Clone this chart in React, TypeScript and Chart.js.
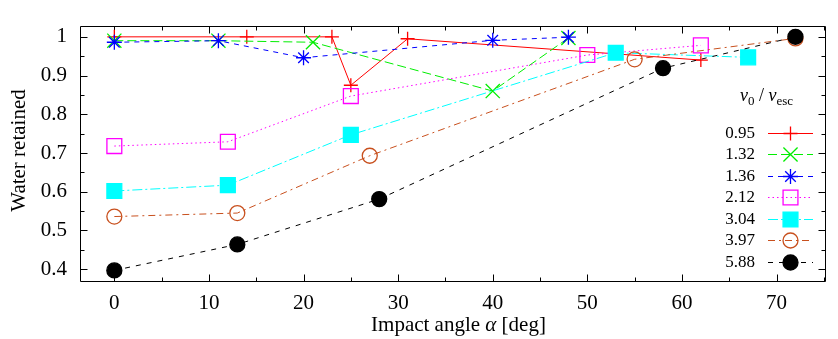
import React, { useEffect, useRef } from 'react';
import { Chart, registerables } from 'chart.js';

Chart.register(...registerables);

// ---- data ----
const seriesLabels = ['0.95', '1.32', '1.36', '2.12', '3.04', '3.97', '5.88'];

const angles095 = [0, 14, 23, 25, 31, 62];
const retained095 = [1.0, 1.0, 1.0, 0.875, 0.995, 0.94];

const angles132 = [0, 11, 21, 40, 48];
const retained132 = [0.99, 0.99, 0.986, 0.86, 0.997];

const angles136 = [0, 11, 20, 40, 48];
const retained136 = [0.986, 0.99, 0.946, 0.991, 0.999];

const angles212 = [0, 12, 25, 50, 62];
const retained212 = [0.718, 0.729, 0.847, 0.953, 0.978];

const angles304 = [0, 12, 25, 53, 67];
const retained304 = [0.602, 0.617, 0.747, 0.959, 0.947];

const angles397 = [0, 13, 27, 55, 72];
const retained397 = [0.536, 0.545, 0.693, 0.942, 0.996];

const angles588 = [0, 13, 28, 58, 72];
const retained588 = [0.397, 0.464, 0.581, 0.919, 1.0];

const xTicks = [0, 10, 20, 30, 40, 50, 60, 70];
const xMinorTicks = [5, 15, 25, 35, 45, 55, 65, 75];
const yTicks = [0.4, 0.5, 0.6, 0.7, 0.8, 0.9, 1.0];
const yTickLabels = ['0.4', '0.5', '0.6', '0.7', '0.8', '0.9', '1'];
const yMinorTicks = [0.45, 0.55, 0.65, 0.75, 0.85, 0.95];

const xTitleParts = ['Impact angle ', 'α', ' [deg]'];
const yTitle = 'Water retained';

// ---- styles ----
const FONT = '"Liberation Serif", "Times New Roman", serif';
const colors = ['#ff0000', '#00ee00', '#0000ff', '#ff00ff', '#00ffff', '#c8501e', '#000000'];
const pointStyles = ['cross', 'crossRot', 'star', 'rect', 'rect', 'circle', 'circle'];
const filled = [false, false, false, false, true, false, true];
const radii = [7, 10, 7.5, 10.5, 10.5, 7.5, 7.5];
const dashes: number[][] = [[], [9, 4], [5, 5], [1.5, 3], [10, 3, 2, 3], [7, 4, 2, 4], [5, 6]];

const allAngles = [angles095, angles132, angles136, angles212, angles304, angles397, angles588];
const allRetained = [retained095, retained132, retained136, retained212, retained304, retained397, retained588];

function drawMarker(ctx: CanvasRenderingContext2D, i: number, x: number, y: number) {
  const r = radii[i];
  const style = pointStyles[i];
  ctx.save();
  ctx.setLineDash([]);
  ctx.strokeStyle = colors[i];
  ctx.fillStyle = colors[i];
  ctx.lineWidth = 1.3;
  ctx.beginPath();
  if (style === 'cross' || style === 'star') {
    ctx.moveTo(x - r, y); ctx.lineTo(x + r, y);
    ctx.moveTo(x, y - r); ctx.lineTo(x, y + r);
  }
  if (style === 'crossRot' || style === 'star') {
    const o = r * Math.SQRT1_2;
    ctx.moveTo(x - o, y - o); ctx.lineTo(x + o, y + o);
    ctx.moveTo(x - o, y + o); ctx.lineTo(x + o, y - o);
  }
  if (style === 'rect') {
    const s = r * Math.SQRT1_2;
    ctx.rect(x - s, y - s, 2 * s, 2 * s);
  }
  if (style === 'circle') {
    ctx.arc(x, y, r, 0, Math.PI * 2);
  }
  if (filled[i]) ctx.fill();
  ctx.stroke();
  ctx.restore();
}

const framePlugin = {
  id: 'gnuFrame',
  beforeDatasetsDraw(chart: any) {
    const { ctx, chartArea, scales } = chart;
    const { left, right, top, bottom } = chartArea;
    const L = Math.round(left) + 0.5, R = Math.round(right) - 0.5;
    const T = Math.round(top) + 0.5, B = Math.round(bottom) - 0.5;
    ctx.save();
    ctx.strokeStyle = '#000';
    ctx.lineWidth = 1;
    ctx.setLineDash([]);
    ctx.beginPath();
    ctx.rect(L, T, R - L, B - T);
    const xt = (v: number, len: number) => {
      const p = Math.round(scales.x.getPixelForValue(v)) + 0.5;
      if (p < L || p > R) return;
      ctx.moveTo(p, B); ctx.lineTo(p, B - len);
      ctx.moveTo(p, T); ctx.lineTo(p, T + len);
    };
    const yt = (v: number, len: number) => {
      const p = Math.round(scales.y.getPixelForValue(v)) + 0.5;
      if (p < T || p > B) return;
      ctx.moveTo(L, p); ctx.lineTo(L + len, p);
      ctx.moveTo(R, p); ctx.lineTo(R - len, p);
    };
    xTicks.forEach((v) => xt(v, 7));
    xMinorTicks.forEach((v) => xt(v, 4));
    yTicks.forEach((v) => yt(v, 7));
    yMinorTicks.forEach((v) => yt(v, 4));
    ctx.stroke();
    ctx.restore();
  },
  afterDraw(chart: any) {
    const { ctx } = chart;
    ctx.save();
    ctx.fillStyle = '#000';
    // y title
    ctx.save();
    ctx.translate(19, 150.5);
    ctx.rotate(-Math.PI / 2);
    ctx.font = `21px ${FONT}`;
    ctx.textAlign = 'center';
    ctx.textBaseline = 'middle';
    ctx.fillText(yTitle, 0, 0);
    ctx.restore();

    // x title
    const fonts = [`21px ${FONT}`, `italic 21px ${FONT}`, `21px ${FONT}`];
    let total = 0;
    const widths = xTitleParts.map((t, k) => {
      ctx.font = fonts[k];
      const w = ctx.measureText(t).width;
      total += w;
      return w;
    });
    let xx = 458.5 - total / 2;
    ctx.textAlign = 'left';
    ctx.textBaseline = 'alphabetic';
    xTitleParts.forEach((t, k) => {
      ctx.font = fonts[k];
      ctx.fillText(t, xx, 330.5);
      xx += widths[k];
    });

    // legend title v0 / vesc
    let lx = 740;
    const by = 101;
    ctx.font = `italic 18px ${FONT}`;
    ctx.fillText('v', lx, by); lx += ctx.measureText('v').width;
    ctx.font = `13px ${FONT}`;
    ctx.fillText('0', lx, by + 4); lx += ctx.measureText('0').width;
    ctx.font = `18px ${FONT}`;
    ctx.fillText(' / ', lx, by); lx += ctx.measureText(' / ').width;
    ctx.font = `italic 18px ${FONT}`;
    ctx.fillText('v', lx, by); lx += ctx.measureText('v').width;
    ctx.font = `13px ${FONT}`;
    ctx.fillText('esc', lx, by + 4);

    // legend entries
    ctx.font = `17px ${FONT}`;
    ctx.textAlign = 'right';
    ctx.textBaseline = 'middle';
    seriesLabels.forEach((lab, i) => {
      const y = 132.5 + i * 21.5;
      ctx.fillStyle = '#000';
      ctx.fillText(lab, 755, y + 1);
      ctx.save();
      ctx.strokeStyle = colors[i];
      ctx.lineWidth = 1;
      ctx.setLineDash(dashes[i]);
      ctx.beginPath();
      ctx.moveTo(768, Math.round(y) + 0.5);
      ctx.lineTo(813, Math.round(y) + 0.5);
      ctx.stroke();
      ctx.restore();
      drawMarker(ctx, i, 790.5, Math.round(y) + 0.5);
    });
    ctx.restore();
  },
};

export default function App() {
  const ref = useRef<HTMLCanvasElement | null>(null);

  useEffect(() => {
    if (!ref.current) return;
    const datasets = seriesLabels.map((label, i) => ({
      label,
      data: allAngles[i].map((a, k) => ({ x: a, y: allRetained[i][k] })),
      borderColor: colors[i],
      backgroundColor: filled[i] ? colors[i] : 'rgba(0,0,0,0)',
      borderWidth: 1,
      borderDash: dashes[i],
      pointStyle: pointStyles[i],
      pointRadius: radii[i],
      pointBorderColor: colors[i],
      pointBackgroundColor: filled[i] ? colors[i] : 'rgba(0,0,0,0)',
      pointBorderWidth: 1.3,
      pointHoverRadius: radii[i],
      tension: 0,
      fill: false,
      clip: false as any,
      order: seriesLabels.length - i,
    }));

    const chart = new Chart(ref.current, {
      type: 'line',
      data: { datasets },
      plugins: [framePlugin],
      options: {
        animation: false,
        responsive: false,
        devicePixelRatio: 1,
        layout: { padding: { top: 3, right: 3, left: 0, bottom: 0 } },
        plugins: { legend: { display: false }, tooltip: { enabled: false } },
        scales: {
          x: {
            type: 'linear',
            min: -3.63,
            max: 75.25,
            grid: { display: false, drawTicks: false },
            border: { display: false },
            afterFit: (s: any) => { s.height = 57; },
            afterBuildTicks: (s: any) => { s.ticks = xTicks.map((v) => ({ value: v })); },
            ticks: {
              padding: 9,
              color: '#000',
              font: { family: FONT, size: 21 },
              maxRotation: 0,
              callback: (v: any) => String(v),
            },
          },
          y: {
            type: 'linear',
            min: 0.367,
            max: 1.029,
            grid: { display: false, drawTicks: false },
            border: { display: false },
            afterFit: (s: any) => { s.width = 80; },
            afterBuildTicks: (s: any) => { s.ticks = yTicks.map((v) => ({ value: v })); },
            ticks: {
              padding: 13,
              color: '#000',
              font: { family: FONT, size: 21 },
              callback: (v: any) => {
                const k = yTicks.findIndex((t) => Math.abs(t - v) < 1e-6);
                return k >= 0 ? yTickLabels[k] : '';
              },
            },
          },
        },
      },
    });
    return () => chart.destroy();
  }, []);

  return (
    <div style={{ position: 'absolute', left: 0, top: 0, width: 838, height: 339, background: '#fff' }}>
      <canvas ref={ref} width={838} height={339} style={{ display: 'block' }} />
    </div>
  );
}
